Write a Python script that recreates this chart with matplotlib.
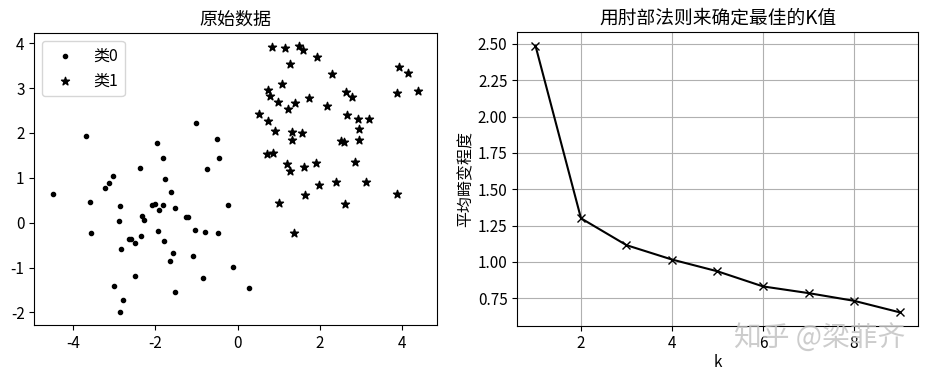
import numpy as np
import matplotlib
matplotlib.use('Agg')
import matplotlib.pyplot as plt

plt.rcParams['font.family'] = ['Noto Sans CJK SC', 'DejaVu Sans']
plt.rcParams['axes.unicode_minus'] = False

# 类0 的点
x0 = [-4.49, -3.67, -3.58, -3.56, -3.21, -3.13, -3.03, -2.85, -2.88, -2.82,
      -3.01, -2.77, -2.85, -2.48, -2.64, -2.59, -2.48, -2.34, -2.32, -2.27,
      -2.36, -2.07, -2.00, -1.95, -1.92, -1.90, -1.82, -1.81, -1.78, -1.77,
      -1.65, -1.61, -1.56, -1.53, -1.52, -1.25, -1.20, -1.09, -1.03, -1.00,
      -0.84, -0.79, -0.75, -0.49, -0.47, -0.45, -0.22, -0.10, 0.29]
y0 = [0.64, 1.93, 0.46, -0.22, 0.78, 0.88, 1.04, 0.38, 0.04, -0.58,
      -1.42, -1.73, -1.99, -1.19, -0.36, -0.36, -0.45, -0.30, 0.14, 0.05,
      1.22, 0.40, 0.41, 1.77, -0.19, 0.29, 0.39, 1.45, -0.41, 0.97,
      -0.85, 0.69, -0.68, 0.33, -1.54, 0.12, 0.12, -0.74, -0.16, 2.23,
      -1.23, -0.20, 1.20, 1.87, -0.22, 1.45, 0.39, -0.98, -1.46]

# 类1 的点
x1 = [0.84, 1.15, 1.50, 1.59, 1.93, 1.28, 2.30, 1.09, 0.75, 0.80,
      0.99, 1.39, 1.23, 1.74, 2.18, 2.63, 2.79, 3.88, 3.92, 4.15,
      4.39, 0.53, 0.73, 0.92, 1.33, 1.56, 1.33, 2.67, 2.93, 3.19,
      2.96, 2.96, 2.52, 2.59, 0.71, 0.87, 1.21, 1.27, 1.61, 1.91,
      2.85, 2.39, 3.12, 1.97, 1.65, 1.00, 2.62, 3.88, 1.38]
y1 = [3.92, 3.90, 3.93, 3.84, 3.70, 3.53, 3.31, 3.10, 2.96, 2.83,
      2.68, 2.67, 2.53, 2.78, 2.61, 2.91, 2.81, 2.90, 3.46, 3.33,
      2.93, 2.42, 2.27, 2.05, 2.03, 2.00, 1.84, 2.41, 2.30, 2.30,
      2.09, 1.84, 1.82, 1.79, 1.54, 1.56, 1.30, 1.16, 1.25, 1.33,
      1.36, 0.90, 0.90, 0.83, 0.61, 0.44, 0.41, 0.65, -0.22]

# 肘部法则
K = [1, 2, 3, 4, 5, 6, 7, 8, 9]
meandistortions = [2.488, 1.300, 1.115, 1.016, 0.935, 0.831, 0.785, 0.732, 0.653]
k_ticks = [2, 4, 6, 8]

fig = plt.figure(figsize=(9.27, 3.76), dpi=100)

ax1 = fig.add_axes([0.037, 0.135, 0.434, 0.777])
ax1.scatter(x0, y0, c='k', marker='o', s=9, label='类0')
ax1.scatter(x1, y1, c='k', marker='*', s=36, label='类1')
ax1.legend(loc='upper left', fontsize=11.5)
ax1.set_title('原始数据', fontsize=13)
ax1.tick_params(labelsize=11)

ax2 = fig.add_axes([0.558, 0.134, 0.432, 0.78])
ax2.plot(K, meandistortions, 'kx-')
ax2.set_xticks(k_ticks)
ax2.grid(True)
ax2.set_xlabel('k', fontsize=11, labelpad=1)
ax2.set_ylabel('平均畸变程度', fontsize=11.5, labelpad=2)
ax2.set_title('用肘部法则来确定最佳的K值', fontsize=13.5)
ax2.tick_params(labelsize=11)

# 水印
fig.text(0.976, 0.1, '知乎 @梁菲齐', fontsize=20, color='#c4c4c4', alpha=0.85,
         ha='right', va='center')

fig.savefig('out.png', dpi=100)
